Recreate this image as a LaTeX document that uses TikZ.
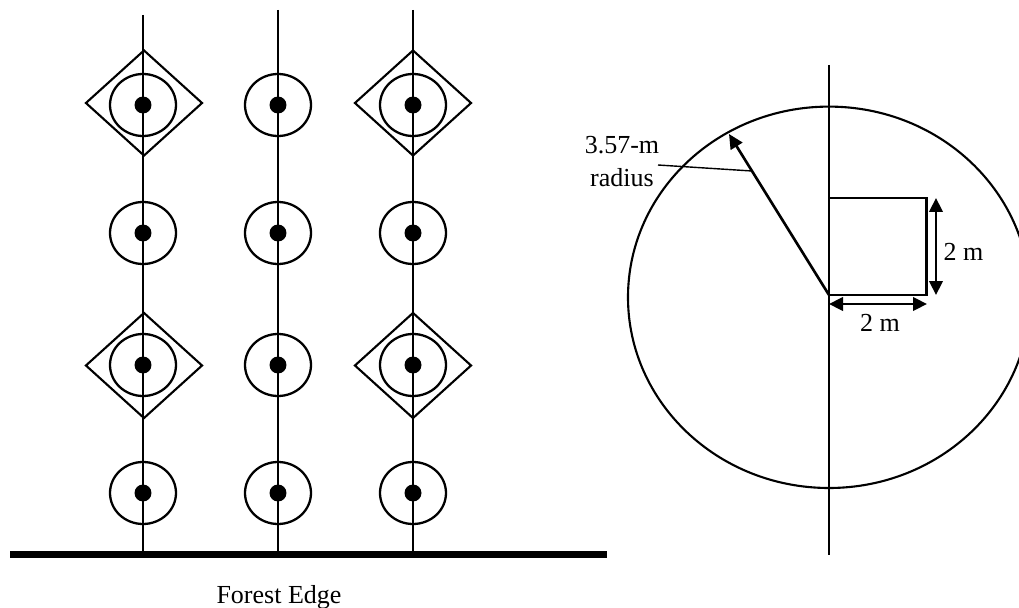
\documentclass[tikz,border=0pt]{standalone}
\usepackage{fontspec}
\setmainfont{Liberation Serif}
\usetikzlibrary{shapes.geometric,arrows.meta}
\begin{document}
\begin{tikzpicture}[x=0.02cm,y=-0.02cm,
  thinline/.style={line width=0.8pt},
  ring/.style={draw,ellipse,line width=1.3pt,minimum width=1.32cm,minimum height=1.24cm,inner sep=0pt},
  seed/.style={circle,fill,minimum size=0.34cm,inner sep=0pt},
  plotbox/.style={draw,diamond,line width=1.2pt,minimum width=2.34cm,minimum height=2.12cm,inner sep=0pt},
  lab/.style={font=\fontsize{14.8}{19.3}\selectfont,inner sep=0pt},
  dimarrow/.style={line width=1.3pt,{Triangle[length=0.28cm,width=0.27cm]}-{Triangle[length=0.28cm,width=0.27cm]}},
]
\useasboundingbox (0,0) rectangle (1019,608);

% forest edge
\coordinate (edgeL) at (10,554.5);
\coordinate (edgeR) at (607,554.5);
\draw[line width=4.3pt] (edgeL) -- (edgeR);
\node[lab,anchor=base] (forest) at (279,603) {Forest Edge};

% transects
\foreach \c/\x/\t in {1/143/15,2/278/10,3/413/10}{
  \coordinate (top\c) at (\x,\t);
  \coordinate (bot\c) at (\x,554.5);
  \draw[thinline] (top\c) -- (bot\c);
  \foreach \r/\y in {1/105,2/233,3/365,4/493}{
    \node[ring] (ring\c\r) at (\x,\y) {};
    \node[seed] (seed\c\r) at (\x,\y) {};
  }
}
% square plots (diamonds)
\node[plotbox] (d11) at (144,103) {};
\node[plotbox] (d31) at (413,103) {};
\node[plotbox] (d13) at (144,365.5) {};
\node[plotbox] (d33) at (413,365.5) {};

% right panel
\coordinate (ctop) at (829,65);
\coordinate (cbot) at (829,555);
\draw[thinline] (ctop) -- (cbot);
\coordinate (ctr) at (829,297.3);
\draw[line width=1.2pt] (ctr) ellipse [x radius=201, y radius=190.7];

\coordinate (sqA) at (829,295);
\coordinate (sqB) at (926.5,198);
\draw[line width=1.2pt] (sqA) rectangle (sqB);

\coordinate (rtip) at (729,134);
\draw[line width=1.5pt,-{Triangle[length=0.29cm,width=0.27cm]}] (sqA) -- (rtip);

\node[lab,align=center] (rlab) at (622,161.5) {3.57-m\\radius};
\coordinate (leadA) at (658,165);
\coordinate (leadB) at (752,171);
\draw[thinline] (leadA) -- (leadB);

\coordinate (vA) at (936,198);
\coordinate (vB) at (936,295);
\draw[dimarrow] (vA) -- (vB);
\coordinate (hA) at (829,304);
\coordinate (hB) at (927,304);
\draw[dimarrow] (hA) -- (hB);

\node[lab,anchor=base] (lv) at (963.5,261) {2 m};
\node[lab,anchor=base] (lh) at (880,331.5) {2 m};
\end{tikzpicture}
\end{document}
